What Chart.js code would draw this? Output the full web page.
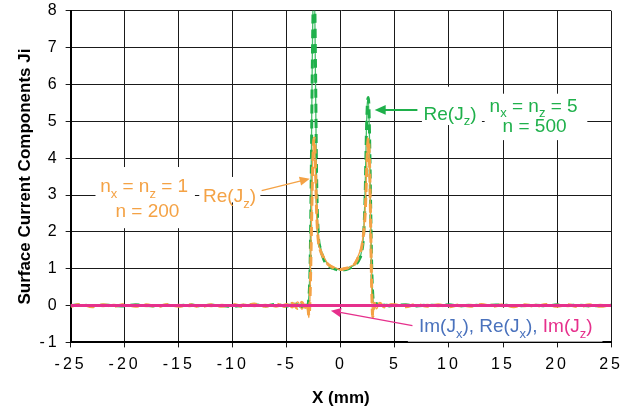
<!DOCTYPE html>
<html>
<head>
<title>Surface Current Components</title>
<script src="https://cdn.jsdelivr.net/npm/chart.js"></script>
<style>
    body { margin: 0; background: #fff; }
</style>
</head>
<body>
<canvas id="chart" width="628" height="419"></canvas>
<script>
// x positions (mm) shared by the Re(Jz) curves
var xPos = [-25,-24,-23,-22,-21,-20,-19,-18,-17,-16,-15,-14,-13,-12,-11,-10,-9,-8,-7,-6,-5,
    -4.5,-4,-3.6,-3.3,-3.1,-2.95,-2.85,-2.75,-2.65,-2.55,-2.45,-2.35,-2.25,-2.1,-1.9,-1.7,-1.5,-1.2,-0.9,-0.6,-0.3,0,
    0.3,0.6,0.9,1.2,1.5,1.7,1.9,2.1,2.25,2.35,2.45,2.55,2.65,2.75,2.85,2.95,3.1,3.3,3.6,4,4.5,
    5,6,7,8,9,10,11,12,13,14,15,16,17,18,19,20,21,22,23,24,25];

// Re(Jz), nx = nz = 5, n = 500 (thin solid + dashed)
var reJz500 = [0.01,-0.01,0.01,0,-0.01,0.01,0,0.01,-0.01,0,0.01,-0.01,0.01,0,-0.01,0.01,0.02,-0.01,0.02,-0.02,0.03,
    0.04,-0.03,0.06,0,0.05,0.3,1.2,3.5,6.5,8.5,8.6,6.2,3.4,1.95,1.6,1.4,1.25,1.12,1.05,1.0,0.98,0.96,
    0.98,1.0,1.04,1.09,1.16,1.26,1.45,1.95,3.2,4.6,5.5,5.6,4.5,2.6,1.0,0.25,0.02,0.07,-0.01,0.04,0,
    0.02,-0.01,0.01,0,0.01,-0.01,0.01,0,0.01,-0.01,0,0.01,-0.01,0.01,0,0.01,-0.01,0.01,0,0.01,0];
var reJz500d = [0,0.02,-0.01,0.01,0,-0.01,0.02,0,-0.01,0.01,0,0.02,-0.01,0.01,0,-0.02,0.01,0.02,-0.01,0.03,-0.02,
    0.05,0.02,-0.04,0.06,-0.02,0.25,1.0,3.2,6.2,8.4,8.8,6.6,3.6,2.0,1.55,1.35,1.2,1.1,1.03,1.0,0.97,0.96,
    0.97,0.99,1.03,1.08,1.15,1.25,1.42,1.9,3.0,4.5,5.45,5.65,4.7,2.8,1.1,0.3,-0.02,0.05,0.02,0.03,-0.01,
    0.01,0.02,-0.01,0.01,0,0.02,-0.01,0.01,0,0.01,0.02,-0.01,0,0.01,-0.01,0.02,0,0.01,-0.01,0,0.01];

// Re(Jz), nx = nz = 1, n = 200 (thin solid + dashed)
var reJz200 = [0.03,-0.02,0.02,-0.03,0.03,-0.02,0.03,-0.03,0.02,-0.02,0.03,-0.03,0.02,-0.03,0.03,-0.02,0.04,-0.03,0.03,-0.04,0.05,
    -0.06,0.1,-0.1,0.04,-0.08,-0.33,0.3,1.8,3.4,4.4,4.5,3.6,2.5,1.75,1.52,1.38,1.28,1.14,1.08,1.04,1.0,0.97,
    1.02,1.0,1.06,1.12,1.28,1.42,1.6,2.0,2.6,3.4,4.3,4.5,3.8,2.1,0.4,-0.32,0.04,-0.09,0.08,-0.05,0.04,
    -0.03,0.03,-0.02,0.03,-0.03,0.02,-0.03,0.03,-0.02,0.03,-0.03,0.02,-0.03,0.03,-0.02,0.03,-0.03,0.02,-0.03,0.03,-0.02];
var reJz200d = [-0.02,0.03,-0.03,0.02,-0.02,0.03,-0.02,0.02,-0.03,0.03,-0.02,0.02,-0.03,0.02,-0.02,0.03,-0.03,0.04,-0.02,0.04,-0.03,
    0.06,-0.08,0.09,-0.05,0.06,-0.28,0.2,1.6,3.2,4.3,4.55,3.8,2.6,1.8,1.5,1.36,1.25,1.12,1.06,1.02,0.99,0.98,
    1.0,1.02,1.05,1.1,1.24,1.38,1.55,1.95,2.5,3.3,4.2,4.55,3.9,2.3,0.5,-0.3,0.06,-0.07,0.06,-0.04,0.03,
    0.02,-0.03,0.03,-0.02,0.02,-0.03,0.02,-0.02,0.03,-0.02,0.02,-0.03,0.02,-0.02,0.03,-0.02,0.02,-0.03,0.02,-0.02,0.03];

// flat components
var flatX = [-25, 25];
var imJx = [0, 0];
var reJx = [0, 0];
var imJz = [0, 0];

var xTicks = [-25, -20, -15, -10, -5, 0, 5, 10, 15, 20, 25];
var yTicks = [-1, 0, 1, 2, 3, 4, 5, 6, 7, 8];

var GREEN = '#1fb04b';
var ORANGE = '#f4a245';
var BLUE = '#4a72bd';
var PINK = '#e6308c';
var FONT = "'Liberation Sans', Arial, sans-serif";

function pts(xs, ys) {
    return xs.map(function (x, i) { return { x: x, y: ys[i] }; });
}

// text with subscripts; runs = [[text, isSub, color], ...]
function richText(ctx, runs, x, y, size, align) {
    var subSize = Math.round(size * 0.68);
    var w = 0;
    runs.forEach(function (r) {
        ctx.font = (r[1] ? subSize : size) + 'px ' + FONT;
        r.w = ctx.measureText(r[0]).width;
        w += r.w;
    });
    var cx = align === 'left' ? x : x - w / 2;
    ctx.textBaseline = 'alphabetic';
    ctx.textAlign = 'left';
    runs.forEach(function (r) {
        ctx.font = (r[1] ? subSize : size) + 'px ' + FONT;
        ctx.fillStyle = r[2];
        ctx.fillText(r[0], cx, y + size * 0.36 + (r[1] ? size * 0.3 : 0));
        cx += r.w;
    });
}

function arrow(ctx, x1, y1, x2, y2, color, lw, head) {
    var a = Math.atan2(y2 - y1, x2 - x1);
    ctx.strokeStyle = color;
    ctx.fillStyle = color;
    ctx.lineWidth = lw;
    ctx.beginPath();
    ctx.moveTo(x1, y1);
    ctx.lineTo(x2 - Math.cos(a) * head * 0.8, y2 - Math.sin(a) * head * 0.8);
    ctx.stroke();
    ctx.beginPath();
    ctx.moveTo(x2, y2);
    ctx.lineTo(x2 - head * Math.cos(a) + head * 0.45 * Math.sin(a), y2 - head * Math.sin(a) - head * 0.45 * Math.cos(a));
    ctx.lineTo(x2 - head * Math.cos(a) - head * 0.45 * Math.sin(a), y2 - head * Math.sin(a) + head * 0.45 * Math.cos(a));
    ctx.closePath();
    ctx.fill();
}

var annotate = {
    id: 'annotate',
    beforeDatasetsDraw: function (chart) {
        var ctx = chart.ctx, sx = chart.scales.x, sy = chart.scales.y;
        // white boxes behind the labels (hide the grid)
        var boxes = [
            [-22.7, 3.76, -13.5, 2.1],
            [-13.1, 3.49, -7.45, 2.8],
            [7.5, 5.94, 13.05, 4.9],
            [13.3, 5.75, 22.8, 4.49],
            [6.2, -0.06, 24.2, -0.98]
        ];
        ctx.save();
        ctx.fillStyle = '#fff';
        boxes.forEach(function (b) {
            var x1 = sx.getPixelForValue(b[0]), y1 = sy.getPixelForValue(b[1]);
            var x2 = sx.getPixelForValue(b[2]), y2 = sy.getPixelForValue(b[3]);
            ctx.fillRect(x1, y1, x2 - x1, y2 - y1);
        });
        ctx.restore();
    },
    afterDatasetsDraw: function (chart) {
        // spaced-out tick numbers, drawn after this on layer z=1
        chart.ctx.letterSpacing = '3px';
    },
    afterDraw: function (chart) {
        var ctx = chart.ctx, sx = chart.scales.x, sy = chart.scales.y;
        var px = function (v) { return sx.getPixelForValue(v); };
        var py = function (v) { return sy.getPixelForValue(v); };
        ctx.save();
        ctx.letterSpacing = '0px';

        // n = 200 label
        arrow(ctx, px(-7.33), py(3.12), px(-2.88), py(3.44), ORANGE, 1.3, 10);
        richText(ctx, [['n', 0, ORANGE], ['x', 1, ORANGE], [' = n', 0, ORANGE], ['z', 1, ORANGE], [' = 1', 0, ORANGE]],
            px(-18.2), py(3.27), 19);
        richText(ctx, [['n = 200', 0, ORANGE]], px(-17.9), py(2.59), 19);
        richText(ctx, [['Re(J', 0, ORANGE], ['z', 1, ORANGE], [')', 0, ORANGE]], px(-10.3), py(3.0), 19);

        // n = 500 label
        arrow(ctx, px(7.08), py(5.31), px(3.13), py(5.31), GREEN, 2, 11);
        richText(ctx, [['Re(J', 0, GREEN], ['z', 1, GREEN], [')', 0, GREEN]], px(10.1), py(5.23), 19);
        richText(ctx, [['n', 0, GREEN], ['x', 1, GREEN], [' = n', 0, GREEN], ['z', 1, GREEN], [' = 5', 0, GREEN]],
            px(17.83), py(5.45), 19);
        richText(ctx, [['n = 500', 0, GREEN]], px(17.92), py(4.9), 19);

        // flat components label
        arrow(ctx, px(6.62), py(-0.545), px(-0.92), py(-0.14), PINK, 1.3, 10);
        richText(ctx, [['Im(J', 0, BLUE], ['x', 1, BLUE], ['), Re(J', 0, BLUE], ['x', 1, BLUE], ['), ', 0, BLUE],
            ['Im(J', 0, PINK], ['z', 1, PINK], [')', 0, PINK]], px(7.23), py(-0.545), 19, 'left');
        ctx.restore();
    }
};

new Chart(document.getElementById('chart'), {
    type: 'line',
    data: {
        datasets: [
            { label: 'Im(Jz)', data: pts(flatX, imJz), borderColor: PINK, borderWidth: 3 },
            { label: 'Re(Jz) n=200 b', data: pts(xPos, reJz200d), borderColor: ORANGE, borderWidth: 3, borderDash: [9, 6] },
            { label: 'Re(Jz) n=200', data: pts(xPos, reJz200), borderColor: ORANGE, borderWidth: 1.3 },
            { label: 'Re(Jz) n=500 b', data: pts(xPos, reJz500d), borderColor: GREEN, borderWidth: 3, borderDash: [9, 6] },
            { label: 'Re(Jz) n=500', data: pts(xPos, reJz500), borderColor: '#45c06a', borderWidth: 1.3 },
            { label: 'Re(Jx)', data: pts(flatX, reJx), borderColor: BLUE, borderWidth: 2 },
            { label: 'Im(Jx)', data: pts(flatX, imJx), borderColor: BLUE, borderWidth: 2 }
        ]
    },
    options: {
        responsive: false,
        animation: false,
        layout: { padding: { left: 11, right: 10, top: 0, bottom: 6 } },
        elements: {
            point: { radius: 0 },
            line: { cubicInterpolationMode: 'monotone', fill: false }
        },
        plugins: {
            legend: { display: false },
            tooltip: { enabled: false }
        },
        scales: {
            x: {
                type: 'linear',
                min: -25,
                max: 25,
                afterBuildTicks: function (s) { s.ticks = xTicks.map(function (v) { return { value: v }; }); },
                ticks: { z: 1, color: '#000', padding: 8, maxRotation: 0, font: { family: FONT, size: 16 } },
                grid: { color: '#1a1a1a', lineWidth: 1, tickLength: 5 },
                border: { color: '#000', width: 2 },
                title: { display: true, text: 'X (mm)', color: '#000', padding: { top: 6 }, font: { family: FONT, size: 17, weight: 'bold' } }
            },
            y: {
                min: -1,
                max: 8,
                afterBuildTicks: function (s) { s.ticks = yTicks.map(function (v) { return { value: v }; }); },
                ticks: { z: 1, color: '#000', padding: 6, font: { family: FONT, size: 16, lineHeight: 0.6 } },
                grid: { color: '#1a1a1a', lineWidth: 1, tickLength: 5 },
                border: { color: '#000', width: 2 },
                title: { display: true, text: 'Surface Current Components Ji', color: '#000', padding: { bottom: 4 }, font: { family: FONT, size: 17, weight: 'bold' } }
            }
        }
    },
    plugins: [annotate]
});
</script>
</body>
</html>
